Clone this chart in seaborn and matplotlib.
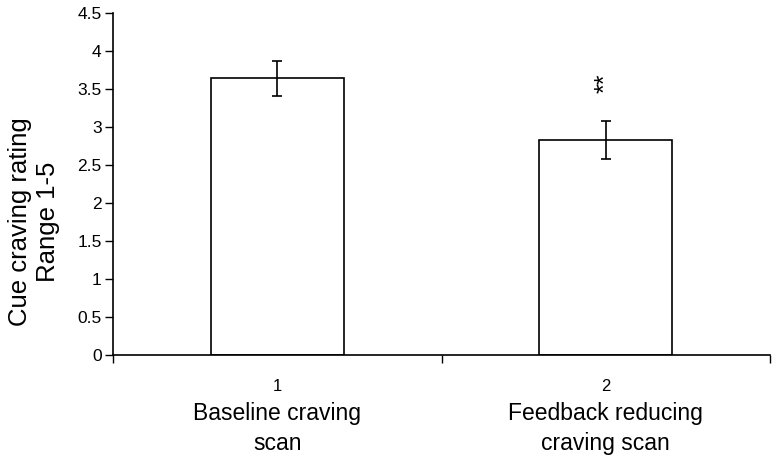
import matplotlib
matplotlib.use('Agg')
import matplotlib.pyplot as plt
import seaborn as sns
import pandas as pd

# Data
conditions = ['1', '2']
condition_names = ['Baseline craving\nscan', 'Feedback reducing\ncraving scan']
mean_rating = [3.64, 2.83]
sem_rating = [0.23, 0.245]

df = pd.DataFrame({'Condition': conditions, 'Rating': mean_rating})

sns.set_style('white')
plt.rcParams['font.family'] = ['Liberation Sans', 'DejaVu Sans']
plt.rcParams['text.color'] = 'black'
plt.rcParams['axes.labelcolor'] = 'black'
plt.rcParams['xtick.color'] = 'black'
plt.rcParams['ytick.color'] = 'black'

fig = plt.figure(figsize=(7.78, 4.66), dpi=100)
ax = fig.add_axes([0.145, 0.238, 0.845, 0.734])

sns.barplot(data=df, x='Condition', y='Rating', color='white', edgecolor='black',
            linewidth=1.2, width=0.405, errorbar=None, ax=ax)
ax.errorbar(range(len(conditions)), mean_rating, yerr=sem_rating, fmt='none',
            ecolor='black', elinewidth=1.2, capsize=3.5, capthick=1.2)

# significance marker
ax.text(1, 3.57, '**', rotation=90, ha='center', va='center', fontsize=18)

ax.set_ylim(0, 4.5)
ax.set_xlim(-0.5, 1.5)
ax.set_yticks([0, 0.5, 1, 1.5, 2, 2.5, 3, 3.5, 4, 4.5])
ax.set_yticklabels(['0', '0.5', '1', '1.5', '2', '2.5', '3', '3.5', '4', '4.5'], fontsize=12.5)

# category boundaries as tick marks, numbers at bar centres
ax.set_xticks([-0.5, 0.5, 1.5])
ax.set_xticklabels(['', '', ''])
ax.set_xticks([0, 1], minor=True)
ax.set_xticklabels(conditions, minor=True, fontsize=12)
ax.tick_params(axis='x', which='minor', bottom=False, length=0, pad=17)
ax.tick_params(axis='x', which='major', bottom=True, direction='out', length=6,
               width=1, color='black')
ax.tick_params(axis='y', left=True, direction='out', length=6, width=1,
               color='black', pad=2)

for i, name in enumerate(condition_names):
    ax.text(i, -0.62, name, ha='center', va='top', fontsize=16.5, linespacing=1.35,
            transform=ax.transData, clip_on=False)

ax.set_xlabel('')
ax.set_ylabel('Cue craving rating\nRange 1-5', fontsize=18.5, linespacing=1.2)
ax.yaxis.set_label_coords(-0.08, 0.39)

for side in ['top', 'right']:
    ax.spines[side].set_visible(False)
for side in ['left', 'bottom']:
    ax.spines[side].set_color('black')
    ax.spines[side].set_linewidth(1.2)

fig.savefig('out.png', dpi=100, facecolor='white')
